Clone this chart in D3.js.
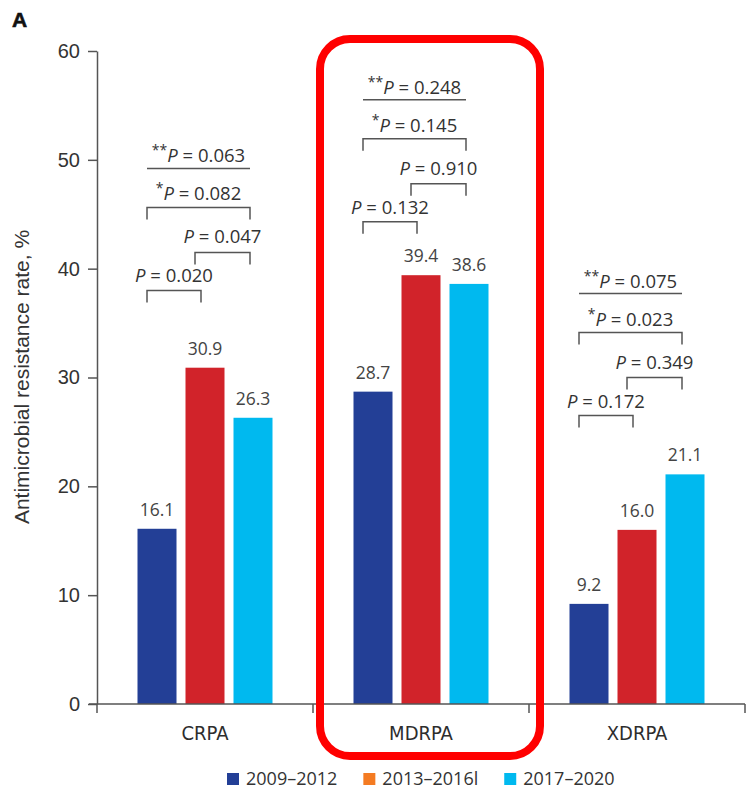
<!DOCTYPE html>
<html>
<head>
<meta charset="utf-8">
<script src="https://cdn.jsdelivr.net/npm/d3@7/dist/d3.min.js"></script>
<style>
  html, body { margin: 0; padding: 0; background: #fff; }
  svg { display: block; }
</style>
</head>
<body>
<svg id="chart" width="746" height="790"></svg>
<script>
// ---- data ----
const categories = ["CRPA", "MDRPA", "XDRPA"];
const periods = ["2009\u20132012", "2013\u20132016l", "2017\u20132020"];
const values2009 = [16.1, 28.7, 9.2];
const values2013 = [30.9, 39.4, 16.0];
const values2017 = [26.3, 38.6, 21.1];
const yTicks = [0, 10, 20, 30, 40, 50, 60];

// pairwise / trend P values per category
const pFirstSecond = ["0.020", "0.132", "0.172"];  // 2009–2012 vs 2013–2016
const pSecondThird = ["0.047", "0.910", "0.349"];  // 2013–2016 vs 2017–2020
const pFirstThird  = ["0.082", "0.145", "0.023"];  // * 2009–2012 vs 2017–2020
const pTrend       = ["0.063", "0.248", "0.075"];  // ** overall trend

// height (in % units) of the lowest bracket above each group
const bracketBase = [38.0, 44.3, 26.5];

const seriesValues = [values2009, values2013, values2017];
const barColors = ["#233f96", "#d1232a", "#00b9ef"];
const legendColors = ["#233f96", "#f47b22", "#00b9ef"];

// ---- layout ----
const svg = d3.select("#chart");
const margin = { left: 97, right: 1, top: 51, bottom: 86 };
const W = 746, H = 790;
const plotBottom = H - margin.bottom; // 704

const x0 = d3.scaleBand().domain(categories).range([margin.left, W - margin.right]);
const x1 = d3.scaleBand().domain(d3.range(3)).range([0, 144])
  .paddingInner(0.1875).paddingOuter(0.09375);
const y = d3.scaleLinear().domain([0, 60]).range([plotBottom, margin.top]);

const groupStart = c => x0(c) + x0.bandwidth() / 2 - 72;
const barCenter = (c, s) => groupStart(c) + x1(s) + x1.bandwidth() / 2;

// panel letter
svg.append("text").attr("x", 12).attr("y", 27)
  .attr("font-family", "Liberation Sans, Arial, sans-serif")
  .attr("font-weight", "bold").attr("font-size", 21).attr("fill", "#111")
  .attr("stroke", "#111").attr("stroke-width", 0.6).text("A");

// y axis
const yAxis = svg.append("g").attr("transform", `translate(${margin.left},0)`)
  .call(d3.axisLeft(y).tickValues(yTicks).tickSize(9).tickSizeOuter(0).tickPadding(8));
yAxis.select(".domain").attr("stroke", "#555").attr("stroke-width", 1.5);
yAxis.selectAll(".tick line").attr("stroke", "#555").attr("stroke-width", 1.5);
yAxis.selectAll(".tick text").attr("font-family", "Liberation Sans, Arial, sans-serif")
  .attr("font-size", 20).attr("fill", "#333");

// y axis title
svg.append("text")
  .attr("transform", `translate(29,377) rotate(-90)`)
  .attr("text-anchor", "middle")
  .attr("font-family", "Liberation Sans, Arial, sans-serif")
  .attr("font-size", 21).attr("fill", "#333")
  .text("Antimicrobial resistance rate, %");

// bars
const groups = svg.append("g").selectAll("g").data(categories).join("g")
  .attr("transform", c => `translate(${groupStart(c)},0)`);
groups.selectAll("rect")
  .data((c, i) => seriesValues.map((vals, s) => ({ s, v: vals[i] })))
  .join("rect")
  .attr("x", d => x1(d.s)).attr("width", x1.bandwidth())
  .attr("y", d => y(d.v)).attr("height", d => y(0) - y(d.v))
  .attr("fill", d => barColors[d.s]);

// value labels
groups.selectAll("text.val")
  .data((c, i) => seriesValues.map((vals, s) => ({ s, v: vals[i] })))
  .join("text").attr("class", "val")
  .attr("x", d => x1(d.s) + x1.bandwidth() / 2)
  .attr("y", d => y(d.v) - 13)
  .attr("text-anchor", "middle")
  .attr("font-family", "Open Sans, sans-serif")
  .attr("font-size", 17.5).attr("fill", "#444")
  .text(d => d3.format(".1f")(d.v));

// x axis
svg.append("line")
  .attr("x1", margin.left - 8).attr("x2", W - margin.right)
  .attr("y1", plotBottom).attr("y2", plotBottom)
  .attr("stroke", "#555").attr("stroke-width", 1.5);
const bounds = categories.map(c => x0(c)).concat([x0(categories[2]) + x0.bandwidth()]);
svg.append("g").selectAll("line").data(bounds).join("line")
  .attr("x1", d => d).attr("x2", d => d)
  .attr("y1", plotBottom).attr("y2", plotBottom + 9)
  .attr("stroke", "#555").attr("stroke-width", 1.5);
svg.append("g").selectAll("text").data(categories).join("text")
  .attr("x", c => x0(c) + x0.bandwidth() / 2).attr("y", 740)
  .attr("text-anchor", "middle")
  .attr("font-family", "DejaVu Sans Condensed, DejaVu Sans, sans-serif")
  .attr("font-stretch", "condensed")
  .attr("font-size", 20).attr("fill", "#2d2d2d")
  .text(c => c);

// significance brackets
const ann = svg.append("g").attr("fill", "none");
const levelOffsets = [0, 38, 83, 122];
const pFont = "Open Sans, sans-serif";

function pLabel(g, cx, yBase, stars, p) {
  const t = g.append("text").attr("x", cx).attr("y", yBase)
    .attr("text-anchor", "middle").attr("font-family", pFont)
    .attr("font-size", 18.5).attr("fill", "#333");
  if (stars) {
    t.append("tspan").attr("font-size", 14).attr("dy", -7).text(stars);
    t.append("tspan").attr("font-style", "italic").attr("dy", 7).text("P");
  } else {
    t.append("tspan").attr("font-style", "italic").text("P");
  }
  t.append("tspan").text(" = " + p);
}

function bracket(g, xa, xb, yl, legs) {
  const path = legs
    ? `M${xa},${yl + 12}V${yl}H${xb}V${yl + 12}`
    : `M${xa},${yl}H${xb}`;
  g.append("path").attr("d", path).attr("stroke", "#555").attr("stroke-width", 1.5)
    .attr("fill", "none");
}

categories.forEach((c, i) => {
  const bA = barCenter(c, 0), bB = barCenter(c, 1), bC = barCenter(c, 2);
  const left = bA - 10, abRight = bB - 4, bcLeft = bB - 10, right = bC - 3;
  const base = y(bracketBase[i]);
  const g = ann.append("g");

  const l0 = base - levelOffsets[0];
  bracket(g, left, abRight, l0, true);
  pLabel(g, (left + abRight) / 2, l0 - 8, "", pFirstSecond[i]);

  const l1 = base - levelOffsets[1];
  bracket(g, bcLeft, right, l1, true);
  pLabel(g, (bcLeft + right) / 2, l1 - 9, "", pSecondThird[i]);

  const l2 = base - levelOffsets[2];
  bracket(g, left, right, l2, true);
  pLabel(g, (left + right) / 2, l2 - 7, "*", pFirstThird[i]);

  const l3 = base - levelOffsets[3];
  bracket(g, left, right, l3, false);
  pLabel(g, (left + right) / 2, l3 - 6, "**", pTrend[i]);
});

// highlight frame around MDRPA
const mid = x0("MDRPA") + x0.bandwidth() / 2;
svg.append("rect")
  .attr("x", mid - 101).attr("y", 39).attr("width", 220).attr("height", 717)
  .attr("rx", 30).attr("ry", 30)
  .attr("fill", "none").attr("stroke", "#ff0000").attr("stroke-width", 8);

// legend
const legend = svg.append("g");
let lx = 227;
periods.forEach((p, i) => {
  legend.append("rect").attr("x", lx).attr("y", 773).attr("width", 12).attr("height", 12)
    .attr("fill", legendColors[i]);
  const t = legend.append("text").attr("x", lx + 19).attr("y", 785)
    .attr("font-family", "Open Sans, sans-serif").attr("font-size", 18)
    .attr("fill", "#333").text(p);
  lx = lx + 19 + t.node().getComputedTextLength() + 26;
});
</script>
</body>
</html>
